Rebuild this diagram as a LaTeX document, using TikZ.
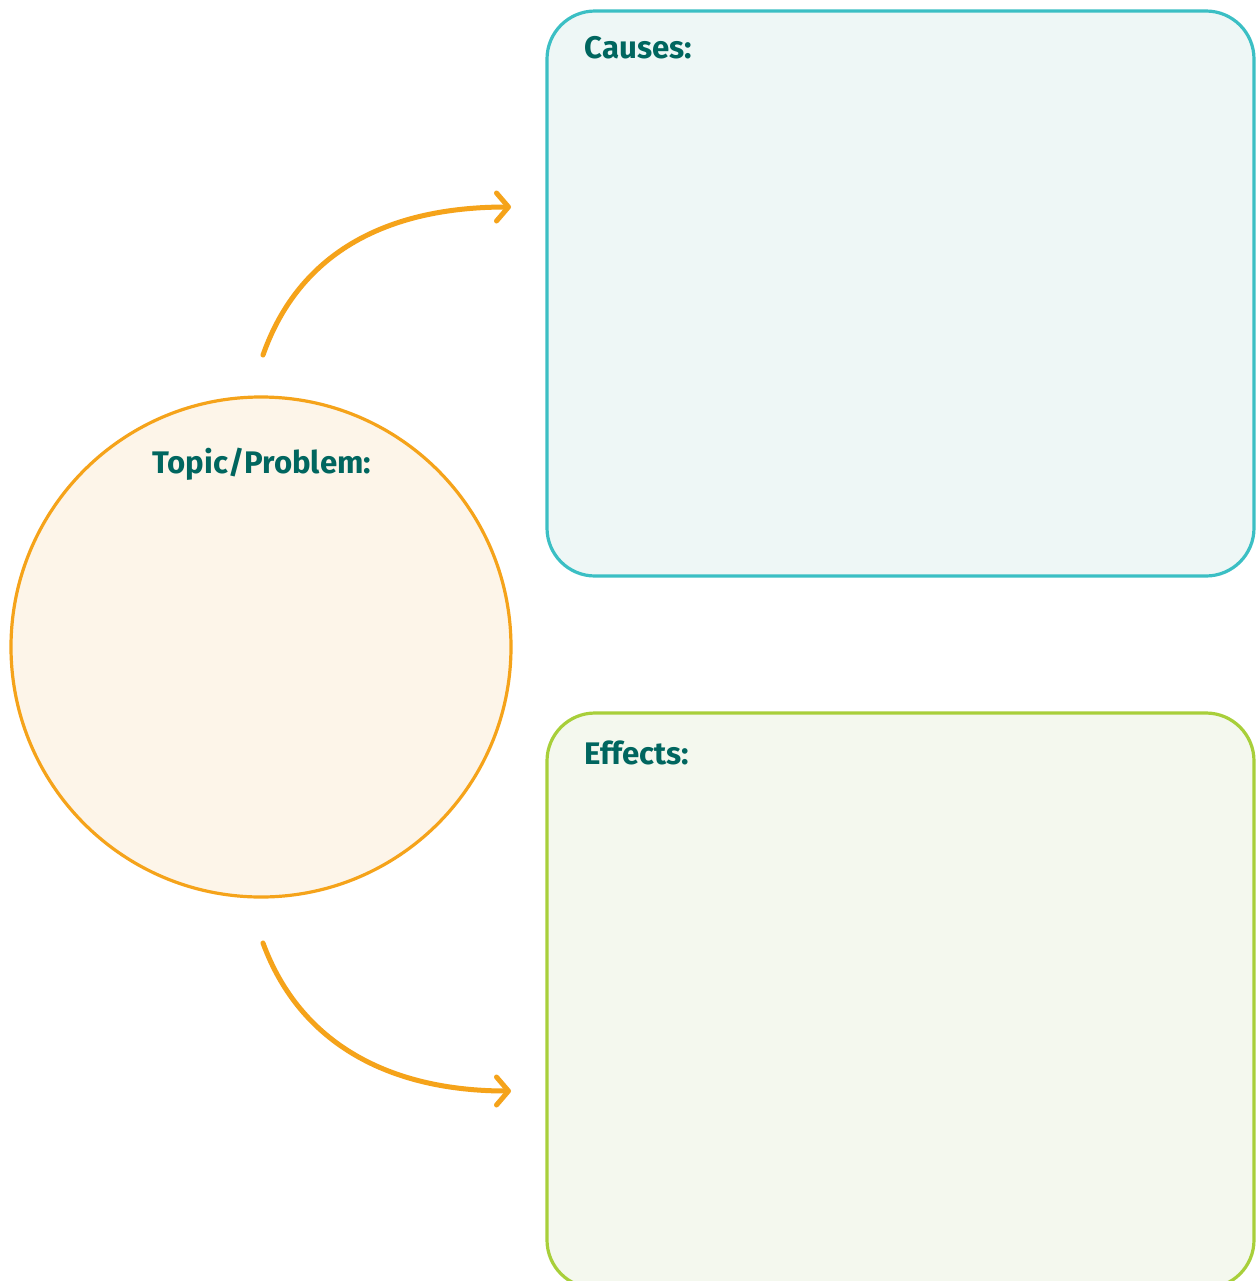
\documentclass[tikz,border=0pt]{standalone}
\usepackage{fontspec}
\setmainfont{Fira Sans}
\usetikzlibrary{arrows.meta}
\definecolor{tealline}{HTML}{3BBFC4}
\definecolor{tealfill}{HTML}{EEF7F6}
\definecolor{greenline}{HTML}{A8CF3A}
\definecolor{greenfill}{HTML}{F4F8EE}
\definecolor{orangeline}{HTML}{F5A31A}
\definecolor{orangefill}{HTML}{FDF5E9}
\definecolor{labeltext}{HTML}{00665F}
\tikzset{
  boxshape/.style={draw, line width=1.6pt, rounded corners=24pt, inner sep=0pt},
  labeltxt/.style={anchor=base west, inner sep=0pt, text=labeltext, font=\fontsize{15.6}{18}\selectfont\bfseries},
  curvearrow/.style={draw=orangeline, line width=2.5pt, line cap=round,
    -{Straight Barb[length=6pt, width=14pt, round]}}
}
\begin{document}
\begin{tikzpicture}[x=0.5pt, y=-0.5pt]
\useasboundingbox (0,0) rectangle (1257,1281);
\fill[white] (0,0) rectangle (1257,1281);
% boxes
\draw[boxshape, draw=tealline, fill=tealfill] (547,11) rectangle (1254,576);
\node[inner sep=0pt] (causes) at (900,293) {};
\begin{scope}
\clip (0,0) rectangle (1257,1281);
\draw[boxshape, draw=greenline, fill=greenfill] (547,713) rectangle (1254,1288);
\end{scope}
\node[inner sep=0pt] (effects) at (900,1000) {};
% circle
\node[circle, draw=orangeline, fill=orangefill, line width=1.6pt, minimum size=250pt, inner sep=0pt] (topic) at (261,647) {};
% labels
\node[labeltxt] (causeslbl) at (584,58) {Causes:};
\node[labeltxt] (topiclbl) at (152,473) {Topic/Problem:};
\node[labeltxt] (effectslbl) at (584,764) {Effects:};
% arrows
\coordinate (a1s) at (263,355);
\coordinate (a1e) at (511,207);
\coordinate (a2s) at (263,943);
\coordinate (a2e) at (511,1091);
\draw[curvearrow] (a1s) .. controls (300,250) and (390,207) .. (a1e);
\draw[curvearrow] (a2s) .. controls (300,1044) and (390,1091) .. (a2e);
\end{tikzpicture}
\end{document}
